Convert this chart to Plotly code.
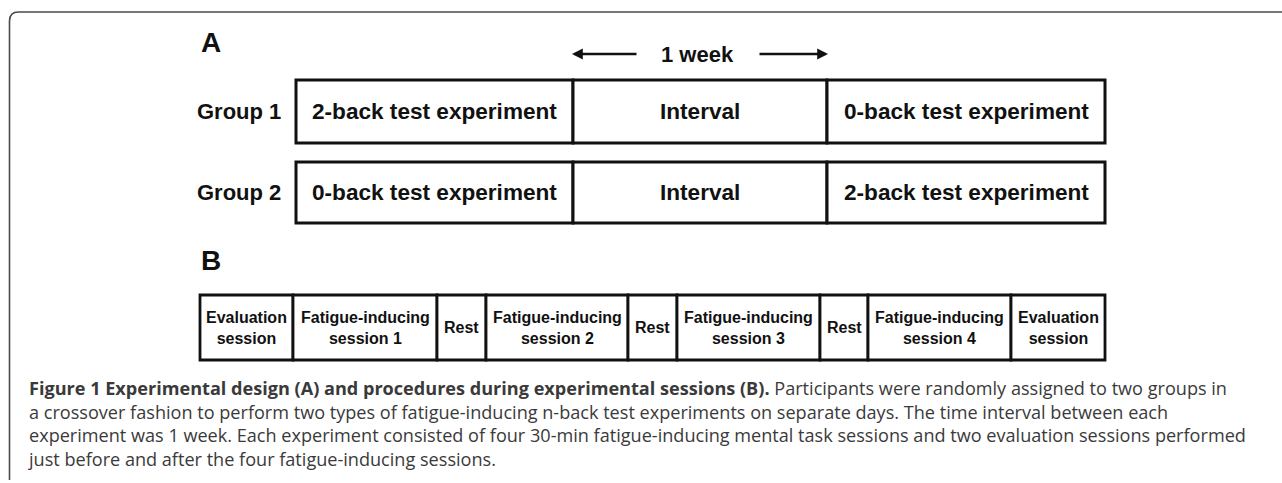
import plotly.graph_objects as go

# ---- data ----
group_labels = ["Group 1", "Group 2"]
group1_cells = ["2-back test experiment", "Interval", "0-back test experiment"]
group2_cells = ["0-back test experiment", "Interval", "2-back test experiment"]
a_spans = [277, 254, 278]          # relative widths of panel A phases
interval_label = "1 week"

b_cells = ["Evaluation<br>session", "Fatigue-inducing<br>session 1", "Rest",
           "Fatigue-inducing<br>session 2", "Rest", "Fatigue-inducing<br>session 3",
           "Rest", "Fatigue-inducing<br>session 4", "Evaluation<br>session"]
b_spans = [93, 144, 49, 142, 49, 143, 48, 143, 94]

caption_lines = [
    "<b>Figure 1 Experimental design (A) and procedures during experimental sessions (B).</b> Participants were randomly assigned to two groups in",
    "a crossover fashion to perform two types of fatigue-inducing n-back test experiments on separate days. The time interval between each",
    "experiment was 1 week. Each experiment consisted of four 30-min fatigue-inducing mental task sessions and two evaluation sessions performed",
    "just before and after the four fatigue-inducing sessions.",
]

# ---- layout constants ----
W, H = 1282, 483
A_X0 = 296
A_ROWS = [(80, 143), (162, 223)]
B_X0 = 200
B_ROW = (295, 360)
BOX = "Liberation Sans, Arial, sans-serif"

fig = go.Figure()
shapes = []
annots = []

# outer rounded frame (top-left corner only visible)
shapes.append(dict(type="path", xref="x", yref="y",
                   path="M 9.5 480 L 9.5 21 Q 9.5 12 18.5 12 L 1284 12",
                   line=dict(color="#4a4a4a", width=1.6)))

# panel letters
for letter, yc in [("A", 42), ("B", 260)]:
    annots.append(dict(x=199, y=yc, xref="x", yref="y", text="<b>%s</b>" % letter,
                       showarrow=False, xanchor="left", yanchor="middle",
                       font=dict(family=BOX, size=28, color="#111")))

# 1 week arrows
annots.append(dict(x=697, y=54, xref="x", yref="y", text="<b>%s</b>" % interval_label,
                   showarrow=False, xanchor="center", yanchor="middle",
                   font=dict(family=BOX, size=22, color="#111")))
for (x_tail, x_head) in [(638, 572), (758, 828)]:
    annots.append(dict(x=x_head, y=54, ax=x_tail, ay=54, xref="x", yref="y",
                       axref="x", ayref="y", text="", showarrow=True,
                       arrowhead=2, arrowsize=0.9, arrowwidth=2.4, arrowcolor="#111"))

# panel A rows
for label, cells, (y0, y1) in zip(group_labels, [group1_cells, group2_cells], A_ROWS):
    yc = (y0 + y1) / 2
    annots.append(dict(x=283, y=yc, xref="x", yref="y", text="<b>%s</b>" % label,
                       showarrow=False, xanchor="right", yanchor="middle",
                       font=dict(family=BOX, size=22, color="#111")))
    x = A_X0
    for txt, w in zip(cells, a_spans):
        shapes.append(dict(type="rect", xref="x", yref="y", x0=x, x1=x + w, y0=y0, y1=y1,
                           line=dict(color="#111", width=3), fillcolor="white"))
        annots.append(dict(x=x + w / 2, y=yc, xref="x", yref="y", text="<b>%s</b>" % txt,
                           showarrow=False, xanchor="center", yanchor="middle",
                           font=dict(family=BOX, size=22.6, color="#111")))
        x += w

# panel B row
y0, y1 = B_ROW
yc = (y0 + y1) / 2
x = B_X0
for txt, w in zip(b_cells, b_spans):
    shapes.append(dict(type="rect", xref="x", yref="y", x0=x, x1=x + w, y0=y0, y1=y1,
                       line=dict(color="#111", width=2.8), fillcolor="white"))
    annots.append(dict(x=x + w / 2, y=yc, xref="x", yref="y", text="<b>%s</b>" % txt,
                       showarrow=False, xanchor="center", yanchor="middle",
                       font=dict(family=BOX, size=16, color="#111")))
    x += w

# caption (one text block, left aligned)
annots.append(dict(x=26, y=423, xref="x", yref="y", text="<br>".join(caption_lines),
                   showarrow=False, xanchor="left", yanchor="middle", align="left",
                   font=dict(family="Open Sans, sans-serif", size=18.1, color="#3a3a3a")))

fig.update_layout(
    width=W, height=H,
    margin=dict(l=0, r=0, t=0, b=0),
    paper_bgcolor="white", plot_bgcolor="white",
    xaxis=dict(range=[0, W], visible=False, fixedrange=True),
    yaxis=dict(range=[H, 0], visible=False, fixedrange=True),
    shapes=shapes, annotations=annots, showlegend=False,
)
fig.write_html("out.html", config={"displayModeBar": False},
               post_script="document.body.style.margin='0';document.body.style.overflow='hidden';")
